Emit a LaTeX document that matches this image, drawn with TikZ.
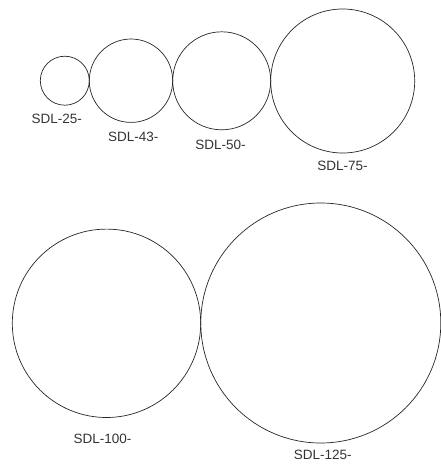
\documentclass[tikz,border=0pt]{standalone}
\usepackage{fontspec}
\setmainfont{Liberation Sans}
\begin{document}
\begin{tikzpicture}[x=1pt,y=-1pt,
  ring/.style={draw=black!85, line width=0.7pt, circle, inner sep=0pt, outer sep=0pt},
  lbl/.style={text=black!80, font=\fontsize{13.5}{16}\selectfont, inner sep=0pt}]
\useasboundingbox (0,0) rectangle (441,467);
\node[ring, minimum size=49pt] (c25) at (64.8,80.7) {};
\node[ring, minimum size=83.4pt] (c43) at (131,80.7) {};
\node[ring, minimum size=98pt] (c50) at (221.7,80.8) {};
\node[ring, minimum size=144pt] (c75) at (342.7,81) {};
\node[ring, minimum size=188.4pt] (c100) at (106.5,323.3) {};
\node[ring, minimum size=240pt] (c125) at (320.8,323) {};
\node[lbl] (l25) at (56.7,118.7) {SDL-25-};
\node[lbl] (l43) at (133.3,136.7) {SDL-43-};
\node[lbl] (l50) at (220.5,145) {SDL-50-};
\node[lbl] (l75) at (342.5,166.3) {SDL-75-};
\node[lbl] (l100) at (102.5,439) {SDL-100-};
\node[lbl] (l125) at (322.8,455) {SDL-125-};
\end{tikzpicture}
\end{document}
